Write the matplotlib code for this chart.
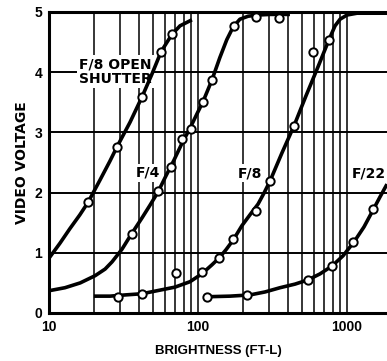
import matplotlib
matplotlib.use("Agg")
import matplotlib.pyplot as plt

# traced curves (brightness ft-L, video volts)
open_curve_x = [10, 11.85, 13.8, 16.1, 18.3, 22.0, 25.6, 28.6, 35.0, 42.1, 49.1, 56.5, 62, 67, 75.7, 83, 91]
open_curve_y = [0.91, 1.16, 1.40, 1.63, 1.84, 2.21, 2.52, 2.76, 3.17, 3.59, 3.97, 4.34, 4.50, 4.63, 4.77, 4.82, 4.87]

f4_curve_x = [10, 12.8, 16.2, 20.4, 23.8, 26.5, 30.9, 35.5, 42.1, 47.6, 53.9, 61.0, 69.0, 78.1, 88.4,
              98.5, 108, 124, 140, 156, 172, 191, 217, 253, 304, 414]
f4_curve_y = [0.37, 0.42, 0.50, 0.62, 0.73, 0.85, 1.06, 1.30, 1.58, 1.79, 2.01, 2.28, 2.54, 2.82, 3.07,
              3.31, 3.51, 3.87, 4.24, 4.54, 4.75, 4.88, 4.93, 4.95, 4.96, 4.96]

f8_curve_x = [20, 25.7, 32.4, 42.1, 55.6, 70.1, 88.4, 106, 124, 138, 154, 172, 197, 223, 253, 277,
              304, 366, 441, 531, 639, 757, 831, 898, 1000, 1167, 1855]
f8_curve_y = [0.28, 0.28, 0.30, 0.32, 0.38, 0.43, 0.52, 0.65, 0.80, 0.91, 1.05, 1.21, 1.45, 1.63, 1.81, 1.99,
              2.19, 2.66, 3.11, 3.61, 4.09, 4.54, 4.77, 4.88, 4.95, 4.98, 4.98]

f22_curve_x = [115, 164, 223, 282, 355, 448, 547, 659, 793, 940, 1114, 1300, 1495, 1666, 1855]
f22_curve_y = [0.27, 0.28, 0.30, 0.35, 0.42, 0.48, 0.55, 0.65, 0.78, 0.95, 1.18, 1.43, 1.71, 1.93, 2.14]

# measured points
open_pts_x = [18.3, 28.6, 42.1, 56.5, 67]
open_pts_y = [1.84, 2.76, 3.59, 4.34, 4.63]
f4_pts_x = [36, 54, 66, 78, 90, 108, 124, 175, 245, 350]
f4_pts_y = [1.31, 2.03, 2.43, 2.89, 3.06, 3.50, 3.87, 4.77, 4.92, 4.90]
f8_pts_x = [29, 42, 71, 106, 138, 172, 245, 304, 440, 591, 757]
f8_pts_y = [0.27, 0.32, 0.66, 0.68, 0.91, 1.23, 1.69, 2.19, 3.11, 4.34, 4.53]
f22_pts_x = [115, 213, 547, 793, 1099, 1494]
f22_pts_y = [0.27, 0.30, 0.55, 0.78, 1.18, 1.73]

grid_x = [20, 30, 40, 50, 60, 70, 80, 90, 100, 200, 300, 400, 500, 600, 700, 800, 900, 1000]
grid_y = [1, 2, 3, 4]

labels = ["F/8 OPEN\nSHUTTER", "F/4", "F/8", "F/22"]
label_x = [15.9, 46.1, 221.6, 1406]
label_y = [4.01, 2.33, 2.32, 2.32]

fig = plt.figure(figsize=(3.87, 3.61), dpi=100)
ax = fig.add_axes([49 / 387, 48 / 361, 338 / 387, 301 / 361])
ax.set_xscale("log")
ax.set_xlim(10, 1855)
ax.set_ylim(0, 5)

for gx in grid_x:
    ax.axvline(gx, color="black", lw=1.1, zorder=1)
for gy in grid_y:
    ax.axhline(gy, color="black", lw=1.4, zorder=1)

for cx, cy in [(open_curve_x, open_curve_y), (f4_curve_x, f4_curve_y),
               (f8_curve_x, f8_curve_y), (f22_curve_x, f22_curve_y)]:
    ax.plot(cx, cy, color="black", lw=2.6, solid_capstyle="butt", zorder=3)

for px, py in [(open_pts_x, open_pts_y), (f4_pts_x, f4_pts_y),
               (f8_pts_x, f8_pts_y), (f22_pts_x, f22_pts_y)]:
    ax.plot(px, py, "o", ms=6, mfc="white", mec="black", mew=1.4, zorder=4, clip_on=False)

for i, t in enumerate(labels):
    ha = "left" if i == 0 else "center"
    ax.text(label_x[i], label_y[i], t, ha=ha, va="center", fontsize=10, fontweight="bold",
            family="DejaVu Sans", linespacing=1.05, zorder=2,
            bbox=dict(facecolor="white", edgecolor="none", pad=1.5))

for s in ["left", "bottom", "top"]:
    ax.spines[s].set_linewidth(2.2)
ax.spines["right"].set_visible(False)

ax.set_xticks([10, 100, 1000])
ax.set_xticklabels(["10", "100", "1000"])
ax.xaxis.set_minor_locator(matplotlib.ticker.NullLocator())
ax.set_yticks([0, 1, 2, 3, 4, 5])
ax.tick_params(length=0, pad=5)
for lab in ax.get_xticklabels() + ax.get_yticklabels():
    lab.set_fontfamily("Liberation Sans")
    lab.set_fontweight("bold")
    lab.set_fontsize(10)

ax.set_xlabel("BRIGHTNESS (FT-L)", fontsize=9.5, fontweight="bold", family="Liberation Sans", labelpad=8)
ax.set_ylabel("VIDEO VOLTAGE", fontsize=10, fontweight="bold", family="DejaVu Sans", labelpad=4)

fig.savefig("out.png", dpi=100)
